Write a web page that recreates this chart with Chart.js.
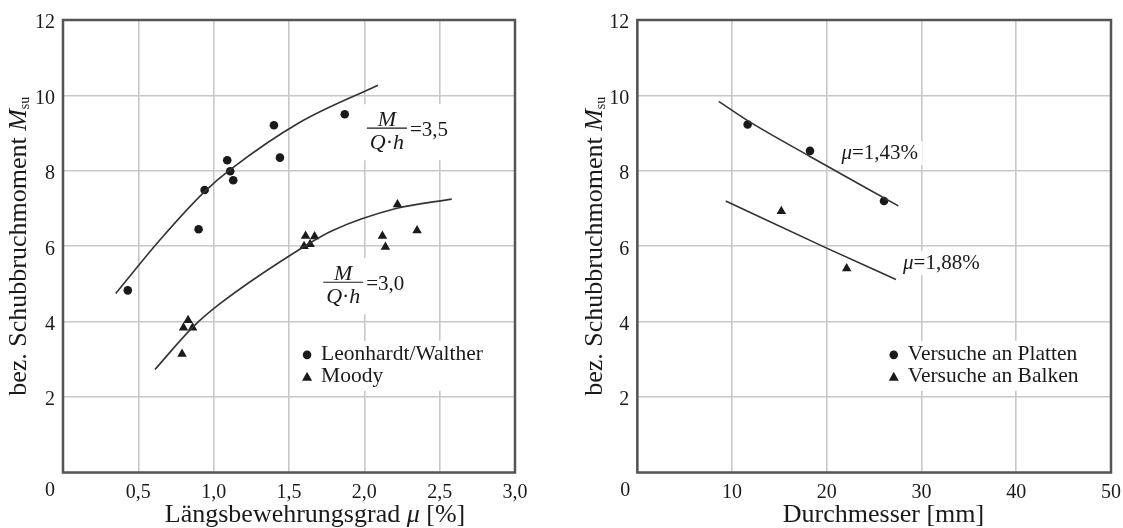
<!DOCTYPE html>
<html>
<head>
<meta charset="utf-8">
<title>Schubbruchmoment</title>
<script src="https://cdn.jsdelivr.net/npm/chart.js"></script>
<style>
    html, body { margin: 0; padding: 0; background: #fff; }
    body { width: 1123px; height: 528px; position: relative; overflow: hidden; }
    canvas { position: absolute; top: 0; }
    #chartLeft { left: 0; }
    #chartRight { left: 560px; }
</style>
</head>
<body>
<canvas id="chartLeft" width="560" height="528"></canvas>
<canvas id="chartRight" width="563" height="528"></canvas>
<script>
// links: Schubbruchmoment über Längsbewehrungsgrad
var lwMu   = [0.43, 0.90, 0.94, 1.09, 1.11, 1.13, 1.40, 1.44, 1.87];
var lwMsu  = [4.83, 6.45, 7.49, 8.28, 7.99, 7.75, 9.21, 8.35, 9.50];
var moodyMu  = [0.79, 0.80, 0.83, 0.86, 1.60, 1.61, 1.64, 1.67, 2.12, 2.14, 2.22, 2.35];
var moodyMsu = [3.14, 3.84, 4.04, 3.84, 6.00, 6.27, 6.05, 6.26, 6.27, 5.98, 7.11, 6.42];
var curve35Mu  = [0.35, 0.65, 0.94, 1.11, 1.57, 2.09];
var curve35Msu = [4.75, 6.20, 7.45, 8.03, 9.28, 10.27];
var curve30Mu  = [0.61, 0.86, 1.04, 1.62, 1.79, 2.21, 2.58];
var curve30Msu = [2.73, 3.85, 4.47, 6.04, 6.42, 7.00, 7.25];
var muTicks = ['0', '0,5', '1,0', '1,5', '2,0', '2,5', '3,0'];

// rechts: Schubbruchmoment über Stabdurchmesser
var platteD   = [11.65, 18.23, 26.04];
var platteMsu = [9.23, 8.53, 7.20];
var balkenD   = [15.2, 22.1];
var balkenMsu = [6.93, 5.41];
var line143D   = [8.6, 11.65, 18.23, 27.55];
var line143Msu = [9.84, 9.33, 8.38, 7.07];
var line188D   = [9.33, 19.99, 27.3];
var line188Msu = [7.20, 5.95, 5.12];
var dTicks = ['0', '10', '20', '30', '40', '50'];

var serif = '"Liberation Serif", "Times New Roman", serif';
var ink = '#1a1a1a';

function font(size, italic) {
    return (italic ? 'italic ' : '') + size + 'px ' + serif;
}

function pts(xs, ys) {
    return xs.map(function (x, i) { return { x: x, y: ys[i] }; });
}

function markers(label, xs, ys, style, r) {
    return {
        label: label,
        data: pts(xs, ys),
        pointStyle: style,
        pointRadius: r,
        backgroundColor: ink,
        borderColor: ink,
        borderWidth: 0,
        showLine: false
    };
}

function curve(xs, ys) {
    return {
        data: pts(xs, ys),
        showLine: true,
        pointRadius: 0,
        borderColor: '#333',
        borderWidth: 1.6,
        cubicInterpolationMode: 'monotone',
        fill: false
    };
}

// text made of pieces [text, italic, size, shift]
function drawPieces(ctx, pieces, x, y, align) {
    var total = 0;
    pieces.forEach(function (p) {
        ctx.font = font(p[2], p[1]);
        p.w = ctx.measureText(p[0]).width;
        total += p.w;
    });
    var cx = align === 'center' ? x - total / 2 : x;
    ctx.textAlign = 'left';
    pieces.forEach(function (p) {
        ctx.font = font(p[2], p[1]);
        ctx.fillText(p[0], cx, y + (p[3] || 0));
        cx += p.w;
    });
}

function whiteBox(ctx, x, y, w, h) {
    ctx.fillStyle = '#fff';
    ctx.fillRect(x, y, w, h);
}

function frame(chart) {
    var a = chart.chartArea, ctx = chart.ctx;
    ctx.save();
    ctx.strokeStyle = '#555';
    ctx.lineWidth = 2.5;
    ctx.strokeRect(a.left, a.top, a.right - a.left, a.bottom - a.top);
    ctx.restore();
}

function yTitle(chart, x) {
    var a = chart.chartArea, ctx = chart.ctx;
    ctx.save();
    ctx.translate(x, (a.top + a.bottom) / 2);
    ctx.rotate(-Math.PI / 2);
    ctx.fillStyle = ink;
    ctx.textBaseline = 'middle';
    drawPieces(ctx, [['bez. Schubbruchmoment ', false, 26], ['M', true, 26], ['su', false, 14, 6]], 0, 0, 'center');
    ctx.restore();
}

function xTitle(chart, pieces, cx) {
    var ctx = chart.ctx;
    ctx.save();
    ctx.fillStyle = ink;
    ctx.textBaseline = 'alphabetic';
    drawPieces(ctx, pieces, cx, 522, 'center');
    ctx.restore();
}

function cornerZero(chart, dx) {
    var a = chart.chartArea, ctx = chart.ctx;
    ctx.save();
    ctx.fillStyle = ink;
    ctx.font = font(20, false);
    ctx.textAlign = 'center';
    ctx.textBaseline = 'top';
    ctx.fillText('0', a.left + dx, a.bottom + 8);
    ctx.restore();
}

// M / (Q·h) = value, centred on the fraction bar
function ratioLabel(ctx, cx, cy, value) {
    whiteBox(ctx, cx - 24, cy - 24, 90, 56);
    ctx.fillStyle = ink;
    ctx.textBaseline = 'alphabetic';
    drawPieces(ctx, [['M', true, 22]], cx, cy - 2, 'center');
    drawPieces(ctx, [['Q', true, 22], ['\u00b7', false, 22], ['h', true, 22]], cx, cy + 21, 'center');
    ctx.strokeStyle = ink;
    ctx.lineWidth = 1.2;
    ctx.beginPath();
    ctx.moveTo(cx - 20, cy);
    ctx.lineTo(cx + 20, cy);
    ctx.stroke();
    drawPieces(ctx, [['=' + value, false, 21]], cx + 23, cy + 8, 'left');
}

function muLabel(ctx, x, y, value) {
    whiteBox(ctx, x - 3, y - 12, 84, 24);
    ctx.fillStyle = ink;
    ctx.textBaseline = 'middle';
    drawPieces(ctx, [['\u03bc', true, 21], ['=' + value, false, 21]], x, y, 'left');
}

function legend(ctx, x, y, entries) {
    whiteBox(ctx, x - 10, y - 14, entries.width, 50);
    ctx.fillStyle = ink;
    ctx.textBaseline = 'middle';
    entries.forEach(function (e, i) {
        var yy = y + i * 22;
        ctx.beginPath();
        if (e[0] === 'circle') {
            ctx.arc(x, yy, 4.3, 0, Math.PI * 2);
        } else {
            ctx.moveTo(x, yy - 5);
            ctx.lineTo(x + 5, yy + 4);
            ctx.lineTo(x - 5, yy + 4);
            ctx.closePath();
        }
        ctx.fill();
        drawPieces(ctx, [[e[1], false, 21.5]], x + 14, yy, 'left');
    });
}

function baseOptions(xMax, xStep, xLabels, yWidth, padRight) {
    return {
        responsive: false,
        animation: false,
        layout: { padding: { top: 17, right: padRight, left: 0, bottom: 0 } },
        plugins: { legend: { display: false }, tooltip: { enabled: false } },
        scales: {
            x: {
                type: 'linear', min: 0, max: xMax,
                afterFit: function (s) {
                    s.height = 55.5;
                    s.paddingLeft = 0;
                    s.paddingRight = 0;
                },
                border: { display: false },
                grid: { color: '#c8c8c8', lineWidth: 1.6, drawTicks: false },
                ticks: {
                    stepSize: xStep, padding: 8, color: ink,
                    font: { family: serif, size: 20 },
                    maxRotation: 0,
                    callback: function (v, i) { return i === 0 ? '' : xLabels[i]; }
                }
            },
            y: {
                min: 0, max: 12,
                afterFit: function (s) { s.width = yWidth; },
                border: { display: false },
                grid: { color: '#c8c8c8', lineWidth: 1.6, drawTicks: false },
                ticks: {
                    stepSize: 2, padding: 8, color: ink, labelOffset: 3,
                    font: { family: serif, size: 20 },
                    callback: function (v) { return v === 0 ? '' : v; }
                }
            }
        }
    };
}

new Chart(document.getElementById('chartLeft'), {
    type: 'scatter',
    data: {
        datasets: [
            curve(curve35Mu, curve35Msu),
            curve(curve30Mu, curve30Msu),
            markers('Leonhardt/Walther', lwMu, lwMsu, 'circle', 4.3),
            markers('Moody', moodyMu, moodyMsu, 'triangle', 5.5)
        ]
    },
    options: baseOptions(3, 0.5, muTicks, 63, 45),
    plugins: [{
        id: 'decoLeft',
        beforeDatasetsDraw: function (chart) {
            var ctx = chart.ctx, sx = chart.scales.x, sy = chart.scales.y;
            ctx.save();
            ratioLabel(ctx, sx.getPixelForValue(2.15), sy.getPixelForValue(9.13), '3,5');
            ratioLabel(ctx, sx.getPixelForValue(1.86), sy.getPixelForValue(5.045), '3,0');
            var lg = [['circle', 'Leonhardt/Walther'], ['triangle', 'Moody']];
            lg.width = 195;
            legend(ctx, sx.getPixelForValue(1.62), sy.getPixelForValue(3.12), lg);
            ctx.restore();
            frame(chart);
        },
        afterDraw: function (chart) {
            yTitle(chart, 19);
            xTitle(chart, [['L\u00e4ngsbewehrungsgrad ', false, 26], ['\u03bc', true, 26], [' [%]', false, 26]], 315);
            cornerZero(chart, -13);
        }
    }]
});

new Chart(document.getElementById('chartRight'), {
    type: 'scatter',
    data: {
        datasets: [
            curve(line143D, line143Msu),
            curve(line188D, line188Msu),
            markers('Versuche an Platten', platteD, platteMsu, 'circle', 4.3),
            markers('Versuche an Balken', balkenD, balkenMsu, 'triangle', 5.5)
        ]
    },
    options: baseOptions(50, 10, dTicks, 77.3, 12),
    plugins: [{
        id: 'decoRight',
        beforeDatasetsDraw: function (chart) {
            var ctx = chart.ctx, sx = chart.scales.x, sy = chart.scales.y;
            ctx.save();
            muLabel(ctx, sx.getPixelForValue(21.55), sy.getPixelForValue(8.47), '1,43%');
            muLabel(ctx, sx.getPixelForValue(28.05), sy.getPixelForValue(5.55), '1,88%');
            var lg = [['circle', 'Versuche an Platten'], ['triangle', 'Versuche an Balken']];
            lg.width = 205;
            legend(ctx, sx.getPixelForValue(27.07), sy.getPixelForValue(3.12), lg);
            ctx.restore();
            frame(chart);
        },
        afterDraw: function (chart) {
            yTitle(chart, 35);
            xTitle(chart, [['Durchmesser [mm]', false, 26]], 323.5);
            cornerZero(chart, -12);
        }
    }]
});
</script>
</body>
</html>
